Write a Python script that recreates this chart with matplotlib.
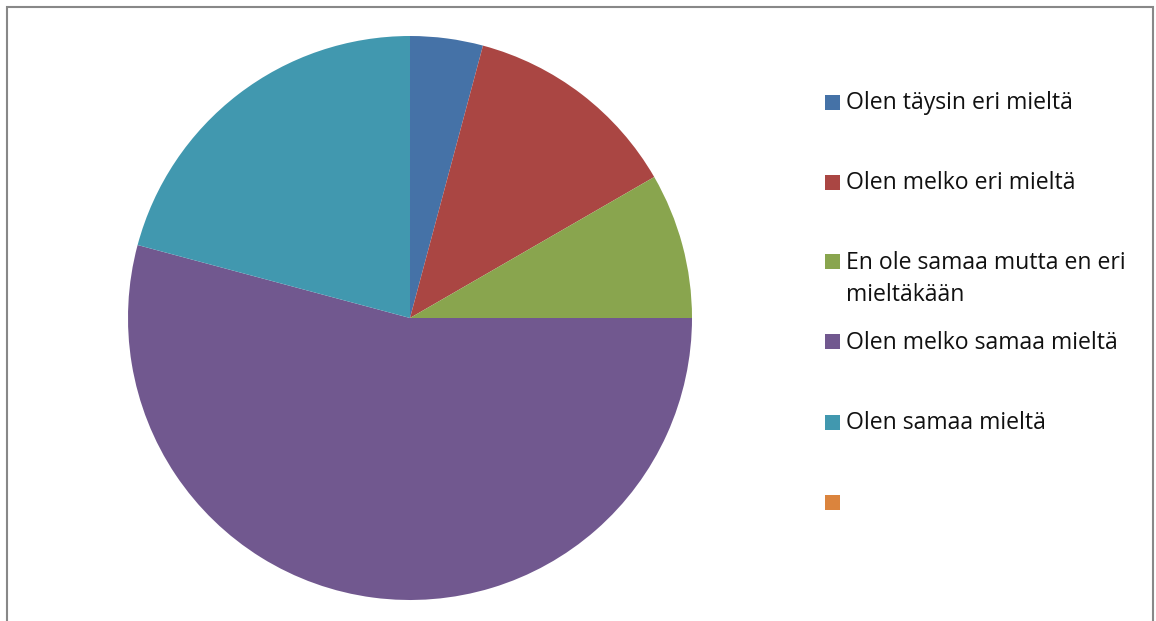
import matplotlib
matplotlib.use("Agg")
import matplotlib.pyplot as plt
from matplotlib.patches import Rectangle

# survey answers (24 respondents), last category left empty
labels = ["Olen täysin eri mieltä", "Olen melko eri mieltä",
          "En ole samaa mutta en eri\nmieltäkään", "Olen melko samaa mieltä",
          "Olen samaa mieltä", ""]
counts = [1, 3, 2, 13, 5, 0]
colors = ["#4572A7", "#AA4643", "#89A54E", "#71588F", "#4198AF", "#DB843D"]

W, H = 1156, 621
fig = plt.figure(figsize=(W / 100, H / 100), dpi=100)
plt.rcParams["font.family"] = ["Open Sans", "DejaVu Sans"]

# pie centred at (410, 318) px, radius 282 px
cx, cy, r = 410, 318, 282
ax = fig.add_axes([(cx - r) / W, (H - cy - r) / H, 2 * r / W, 2 * r / H])
ax.pie(counts, colors=colors, startangle=90, counterclock=False, radius=1)
ax.set_xlim(-1, 1)
ax.set_ylim(-1, 1)
ax.axis("off")

# legend drawn by hand: one square + label per category, 80 px apart
FS = 16.6
for i, (lab, col) in enumerate(zip(labels, colors)):
    y = 102 + 80 * i
    fig.patches.append(Rectangle((825 / W, 1 - (y + 7.5) / H), 15 / W, 15 / H,
                                 transform=fig.transFigure, facecolor=col, edgecolor="none"))
    for j, line in enumerate(lab.split("\n")):
        if line:
            fig.text(846 / W, 1 - (y + 1 + 32 * j) / H, line, fontsize=FS,
                     color="#111111", ha="left", va="center")

# chart-area frame (bottom edge falls outside the image)
fig.patches.append(Rectangle((7 / W, -0.05), 1146 / W, 1.05 - 7 / H,
                             transform=fig.transFigure, facecolor="none",
                             edgecolor="#888888", linewidth=1.5))

fig.savefig("out.png", dpi=100, facecolor="white")
